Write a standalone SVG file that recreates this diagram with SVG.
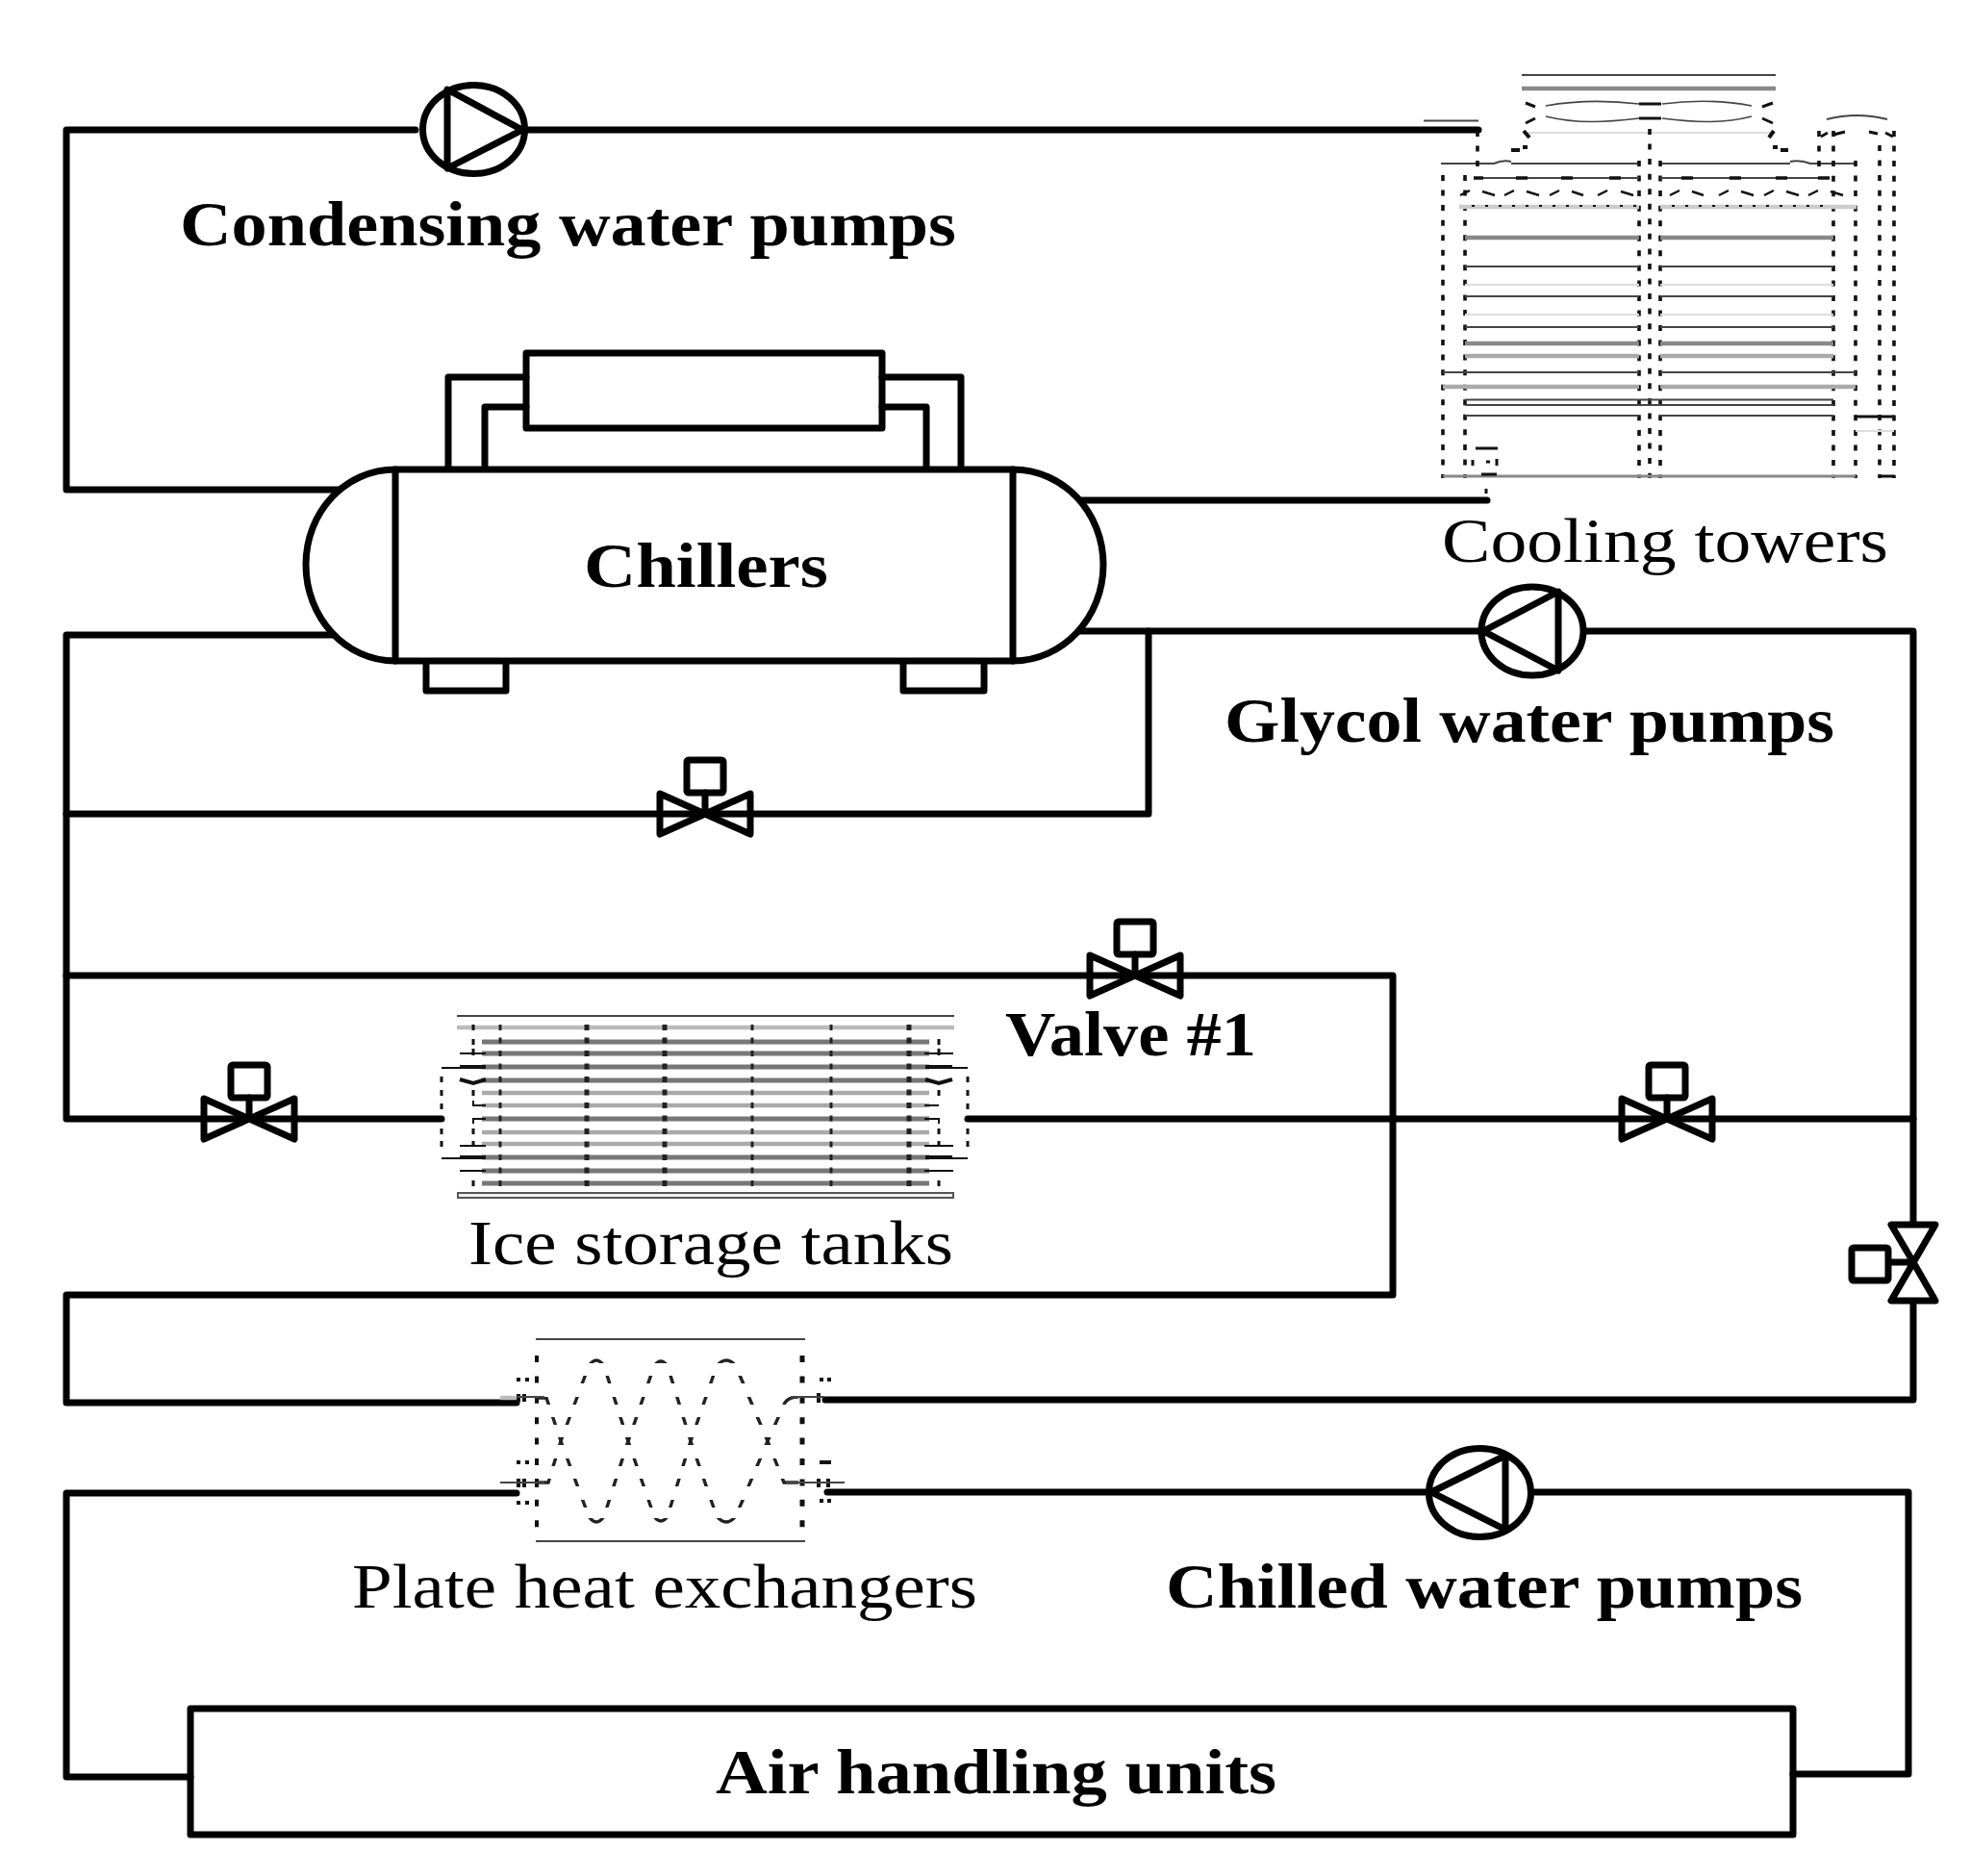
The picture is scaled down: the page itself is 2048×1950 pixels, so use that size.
<svg xmlns="http://www.w3.org/2000/svg" width="2048" height="1950" viewBox="0 0 2048 1950">
<style>
.p{fill:none;stroke:#000;stroke-width:7;stroke-linejoin:round;stroke-linecap:round}
.w{fill:#fff;stroke:#000;stroke-width:7;stroke-linejoin:round}
text{font-family:"Liberation Serif","Times New Roman",serif;font-size:66px;fill:#000}
.b{font-weight:bold}
.g{fill:none;stroke:#888;stroke-width:4.5}
.l{fill:none;stroke:#aaa;stroke-width:4.5}
.k{fill:none;stroke:#777;stroke-width:5}
.t{fill:none;stroke:#444;stroke-width:2}
.f{fill:none;stroke:#ddd;stroke-width:2}
.m{fill:none;stroke:#111;stroke-width:4}
.v{fill:none;stroke:#111;stroke-width:3.6;stroke-dasharray:6 9.55}
.u{fill:none;stroke:#222;stroke-width:3;stroke-dasharray:6 7.5}
</style>
<defs>
<g id="valve"><path class="p" d="M-47-21L47 21V-21L-47 21Z"/><path class="p" d="M0 0V-22"/><rect class="p" x="-19" y="-56" width="38" height="34" rx="2"/></g>
<clipPath id="rows"><rect x="480" y="1408" width="400" height="9"/><rect x="480" y="1430" width="400" height="8"/><rect x="480" y="1452" width="400" height="8"/><rect x="480" y="1473" width="400" height="8"/><rect x="480" y="1494" width="400" height="8"/><rect x="480" y="1516" width="400" height="8"/><rect x="480" y="1537" width="400" height="8"/><rect x="480" y="1559" width="400" height="8"/><rect x="480" y="1578" width="400" height="9"/></clipPath>
</defs>
<g id="connectors">
<path class="p" d="M432 135H69V509H400"/>
<path class="p" d="M549 135H1537"/>
<path class="p" d="M1090 520H1546"/>
<path class="p" d="M400 660H69V1163H459"/>
<path class="p" d="M1090 656H1989V1272"/>
<path class="p" d="M1194 656V846H69"/>
<path class="p" d="M69 1014H1448V1346H69V1458H537"/>
<path class="p" d="M1006 1163H1989"/>
<path class="p" d="M858 1455H1989V1353"/>
<path class="p" d="M537 1552H69V1847H198"/>
<path class="p" d="M860 1551H1984V1844H1864"/>
</g>
<g id="condensing-pump"><ellipse class="w" cx="492.500" cy="134.500" rx="53" ry="46"/><path class="p" d="M465 93L543 135L465 175Z"/></g>
<g id="glycol-pump"><ellipse class="w" cx="1593" cy="656" rx="53" ry="46"/><path class="p" d="M1620 615L1542 656L1620 697Z"/></g>
<g id="chilled-pump"><ellipse class="w" cx="1538.500" cy="1551.500" rx="53" ry="46"/><path class="p" d="M1565 1513L1488 1551L1565 1590Z"/></g>
<g id="chiller">
<path class="p" d="M466 487V392H547M504 487V423H547M917 392H999V487M917 423H963V487"/>
<rect class="p" x="547" y="367" width="370" height="78"/>
<path class="p" d="M443 687V718H526V687M939 687V718H1023V687"/>
<path class="w" d="M411 488H1053C1105 488 1147 532 1147 587C1147 642 1105 687 1053 687H411C359 687 318 642 318 587C318 532 359 488 411 488Z"/>
<path class="p" d="M411 488V687M1053 488V687"/>
<text class="b" x="607" y="610" textLength="254" lengthAdjust="spacingAndGlyphs">Chillers</text>
</g>
<g id="valve-bypass"><use href="#valve" transform="translate(733 846)"/></g>
<g id="valve-1"><use href="#valve" transform="translate(1180 1014)"/></g>
<g id="valve-ice"><use href="#valve" transform="translate(259 1163)"/></g>
<g id="valve-right"><use href="#valve" transform="translate(1733 1163)"/></g>
<g id="valve-vertical"><path class="p" d="M1989 1312L1966 1273H2012L1966 1352H2012Z"/><path class="p" d="M1989 1312H1964"/><rect class="p" x="1925" y="1297" width="38" height="34" rx="2"/></g>
<g id="cooling-tower">
<path class="t" d="M1582 78H1846M1480 125.500H1537"/>
<path class="g" d="M1582 92H1846"/>
<path class="t" style="stroke-width:1.6" d="M1607 110C1640 104 1670 104 1704 108M1728 108C1760 104 1790 104 1821 110M1607 121C1640 129 1670 127 1704 123M1728 123C1760 127 1790 129 1821 121"/>
<path class="m" style="stroke-width:3" d="M1704 108H1727M1704 123H1727M1586 107L1596 111M1586 128L1596 123M1843 107L1832 111M1843 128L1832 123"/>
<path class="f" d="M1586 138H1845"/>
<path class="m" d="M1584 136L1590 143M1844 136L1839 143M1571 156H1580M1583 153H1588M1843 153H1848M1851 156H1859"/>
<path class="t" d="M1498 170H1553Q1562 166 1571 168M1861 168Q1872 166 1882 170H1929M1571 170H1704M1726 170H1861"/>
<path class="v" d="M1536 136V180M1715 134V497M1891 136V180"/>
<path class="v" d="M1500 182V497M1523 182V497M1704 167V497M1726 167V497M1906 136V497M1929 167V497M1954 151V497M1969 136V497"/>
<path class="t" d="M1899 124Q1930 116 1962 124"/>
<path class="m" style="stroke-width:3" d="M1893 142L1900 138M1906 140L1918 137M1943 137L1952 139M1960 138L1968 142"/>
<path class="t" d="M1532 185H1704M1726 185H1893"/>
<path class="m" style="stroke-width:3.500" d="M1576 185H1588M1623 185H1635M1673 185H1685M1748 185H1760M1798 185H1810M1846 185H1858M1890 185H1902M1532 185H1542"/>
<path class="m" style="stroke-width:2.500" d="M1518 203L1528 198M1541 199L1554 203M1564 203L1574 198M1587 199L1600 203M1611 203L1621 198M1634 199L1646 203M1661 203L1671 198M1685 199L1698 203M1736 203L1746 198M1759 199L1771 203M1787 203L1797 198M1810 199L1823 203M1834 203L1844 198M1857 199L1870 203M1880 203L1890 198M1903 199L1916 203"/>
<path class="l" style="stroke:#ccc" d="M1517 215H1704M1726 215H1930"/>
<path class="m" style="stroke-width:2;stroke-dasharray:3 11" d="M1530 214H1704M1738 214H1906"/>
<path class="g" d="M1523 247H1704M1726 247H1906M1523 357H1704M1726 357H1906"/>
<path class="g" style="stroke:#aaa" d="M1523 370H1704M1726 370H1906"/>
<path class="t" d="M1523 277H1704M1726 277H1906M1523 308H1704M1726 308H1906M1523 340H1704M1726 340H1906M1500 387H1704M1726 387H1929M1523 415.500H1906M1523 421H1906M1523 432H1704M1726 432H1906"/>
<path class="f" d="M1523 296H1704M1726 296H1906M1523 327H1704M1726 327H1906M1929 448H1969"/>
<path class="l" d="M1500 402H1704M1726 402H1929"/>
<path class="g" style="stroke-width:3" d="M1500 495H1929"/>
<path class="m" style="stroke-width:3" d="M1534 466H1557M1531 478V484M1545 480H1549M1556 477V484M1540 493H1556M1929 433H1969M1954 495H1969M1545 508V513"/>
</g>
<g id="ice-tank">
<path class="t" d="M475 1056H992"/>
<path class="l" style="stroke:#bbb" d="M475 1068H992"/>
<path class="k" d="M501 1083H966M501 1095H966M501 1109H966M501 1123H966M501 1163H966M501 1203H966M501 1217H966M501 1230H966"/>
<path class="l" d="M501 1136H966M501 1149H966M501 1177H966M501 1189H966"/>
<rect x="476" y="1240" width="515" height="5" fill="#eee" stroke="#555" stroke-width="2"/>
<path class="u" d="M520 1065V1235M782 1065V1235M864 1065V1235"/>
<path class="u" style="stroke-width:5" d="M610 1065V1235M691 1065V1235M945 1065V1235"/>
<path class="m" style="stroke-width:3" d="M459 1119V1125M459 1133V1139M459 1147V1153M459 1173V1179M459 1186V1192M1006 1119V1125M1006 1133V1139M1006 1147V1153M1006 1173V1179M1006 1186V1192M492 1065V1071M492 1080V1086M492 1090V1097M492 1133V1139M492 1173V1179M492 1186V1192M492 1227V1233M976 1080V1086M976 1090V1097M976 1133V1139M976 1173V1179M976 1186V1192M976 1227V1233"/>
<path class="m" style="stroke-width:2" d="M478 1095H505M961 1095H991M478 1191H505M961 1191H991M478 1217H505M961 1217H991"/>
<path class="m" style="stroke-width:4" d="M478 1109H505M962 1109H990M478 1122L492 1126L505 1122M962 1122L976 1126L990 1122M478 1203H505M962 1203H990"/>
<path class="m" style="stroke-width:2" d="M459 1110H480M459 1204H480M990 1110H1006M990 1204H1006M492 1144V1149H505M492 1168V1163H505M976 1149H961M976 1168V1163H961"/>
</g>
<g id="plate-heat-exchanger">
<path class="t" d="M557 1392H837M557 1602H837"/>
<path class="m" style="stroke-dasharray:7 14.400" d="M558 1409V1590"/>
<path class="m" style="stroke-width:5;stroke-dasharray:7 14.400" d="M834 1409V1590"/>
<g clip-path="url(#rows)"><path fill="none" stroke="#222" stroke-width="3.400" d="M556 1453H568L583 1498L612 1420Q620 1408 628 1420L653 1498L680 1420Q687 1410 694 1420L718 1498L745 1420Q755 1408 765 1420L798 1498L816 1458Q820 1452 830 1452M556 1541H570L583 1498L612 1576Q620 1588 628 1576L653 1498L680 1576Q687 1586 694 1576L718 1498L745 1576Q755 1588 765 1576L798 1498L815 1541H830"/></g>
<path class="m" d="M537 1434H541M546 1434H550M537 1520H541M546 1520H550M537 1562H541M546 1562H550M852 1434H856M860 1434H864M852 1520H864M852 1560H856M860 1560H864"/>
<path class="m" d="M545 1449V1457M539 1449V1457M545 1537V1546M539 1537V1546M851 1448V1458M851 1537V1546M861 1537V1546M558 1537V1546"/>
<path class="g" style="stroke:#bbb" d="M520 1453H537"/>
<path class="t" d="M537 1452H566M822 1452H857M520 1541H566M817 1541H878"/>
</g>
<g id="ahu"><rect class="p" x="198" y="1776" width="1666" height="131"/><text class="b" x="744" y="1864" textLength="583" lengthAdjust="spacingAndGlyphs">Air handling units</text></g>
<g id="labels">
<text class="b" x="187" y="255" textLength="807" lengthAdjust="spacingAndGlyphs">Condensing water pumps</text>
<text x="1499" y="584" textLength="464" lengthAdjust="spacingAndGlyphs">Cooling towers</text>
<text class="b" x="1273" y="771" textLength="634" lengthAdjust="spacingAndGlyphs">Glycol water pumps</text>
<text class="b" x="1045" y="1097" textLength="261" lengthAdjust="spacingAndGlyphs">Valve #1</text>
<text x="487" y="1314" textLength="504" lengthAdjust="spacingAndGlyphs">Ice storage tanks</text>
<text x="366" y="1671" textLength="650" lengthAdjust="spacingAndGlyphs">Plate heat exchangers</text>
<text class="b" x="1212" y="1671" textLength="662" lengthAdjust="spacingAndGlyphs">Chilled water pumps</text>
</g>
</svg>
